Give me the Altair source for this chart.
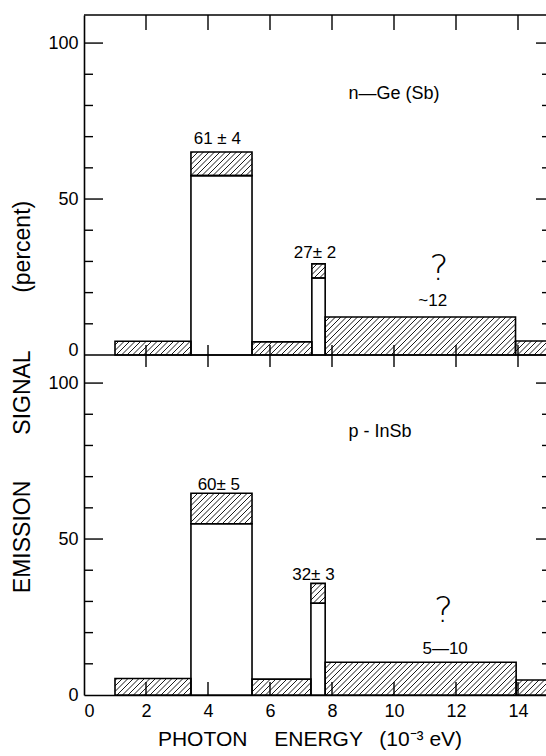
import altair as alt
import numpy as np
import pandas as pd

# ---------------- data ----------------
# bin edges (10^-3 eV) and signal levels (percent)
ge_edges = [1.0, 3.45, 5.42, 7.35, 7.78, 13.92, 16.0]
ge_open = [0, 57.5, 0, 24.7, 0, 0]          # top of the open (unhatched) part
ge_top = [4.4, 65.1, 4.2, 29.2, 12.2, 4.5]   # top of the hatched part

insb_edges = [1.0, 3.45, 5.42, 7.32, 7.78, 13.94, 16.0]
insb_open = [0, 54.9, 0, 29.4, 0, 0]
insb_top = [5.3, 64.7, 5.1, 35.8, 10.5, 4.8]

ge_val_text = ["61 ± 4", "27± 2", "~12"]
ge_val_x = [4.3, 7.45, 11.25]
ge_val_y = [69.2, 32.8, 17.4]
insb_val_text = ["60± 5", "32± 3", "5—10"]
insb_val_x = [4.35, 7.4, 11.65]
insb_val_y = [67.4, 38.5, 14.7]

sample_names = ["n—Ge (Sb)", "p - InSb"]
sample_x = [10.0, 9.55]
sample_y = [83.6, 84.2]

question_x = [11.45, 11.6]
question_y = [27.5, 26.8]

x_tick_values = [2, 4, 6, 8, 10, 12, 14]
x_label_values = [0, 2, 4, 6, 8, 10, 12, 14]
y_major = [50, 100]
y_minor = [10, 20, 30, 40, 60, 70, 80, 90]
y_label_values = [0, 50, 100]

x_title = "PHOTON\u2003 ENERGY\u2002 (10\u207b\u00b3 eV)"
y_title = "EMISSION\u2003\u2003SIGNAL\u2003\u2003\u2002(percent)"

# ---------------- layout ----------------
W, H = 462, 680
XMAX = 462 / 31.0
PANEL = 109.0           # y-units per panel
YMAX = 2 * PANEL
sx = W / XMAX
sy = H / YMAX
FONT = "Liberation Sans"

panels = [("ge", PANEL, ge_edges, ge_open, ge_top),
          ("insb", 0.0, insb_edges, insb_open, insb_top)]

rows = []
for name, off, edges, op, tp in panels:
    for i in range(len(tp)):
        rows.append(dict(panel=name, x0=edges[i], x1=edges[i + 1],
                         base=off, mid=off + op[i], hi=off + tp[i], open=op[i]))
bars = pd.DataFrame(rows)


def hatch(x0, x1, y0, y1, step=5.5):
    X0, X1, Y0, Y1 = x0 * sx, x1 * sx, y0 * sy, y1 * sy
    out = []
    c = np.floor((X0 - Y1) / step) * step
    while c < X1 - Y0:
        lo = max(X0, Y0 + c)
        hi = min(X1, Y1 + c)
        if hi > lo:
            out.append(dict(x0=lo / sx, base=(lo - c) / sy, x1=hi / sx, hi=(hi - c) / sy))
        c += step
    return out


hrows = []
for _, r in bars.iterrows():
    hrows += hatch(r.x0, r.x1, r.mid, r.hi)
hatches = pd.DataFrame(hrows)

# tick marks (inward)
xt = []
for v in x_tick_values:
    xt.append(dict(x0=v, base=2 * PANEL, hi=2 * PANEL - 15 / sy))
    xt.append(dict(x0=v, base=PANEL, hi=PANEL + 10 / sy))
    xt.append(dict(x0=v, base=PANEL, hi=PANEL - 12 / sy))
    xt.append(dict(x0=v, base=0, hi=13 / sy))
xticks = pd.DataFrame(xt)

ymaj = pd.DataFrame(dict(base=[v + o for o in (0, PANEL) for v in y_major]))
ymin = pd.DataFrame(dict(base=[v + o for o in (0, PANEL) for v in y_minor]))
frame = pd.DataFrame(dict(base=[PANEL, 2 * PANEL]))

vals = pd.DataFrame(dict(
    t=ge_val_text + insb_val_text,
    x0=ge_val_x + insb_val_x,
    base=[v + PANEL for v in ge_val_y] + insb_val_y))
names = pd.DataFrame(dict(t=sample_names, x0=sample_x, base=[sample_y[0] + PANEL, sample_y[1]]))
qs = pd.DataFrame(dict(t=["?", "?"], x0=question_x, base=[question_y[0] + PANEL, question_y[1]]))

xs = alt.Scale(domain=[0, XMAX], nice=False, zero=False)
ys = alt.Scale(domain=[0, YMAX], nice=False, zero=False)

y_axis_vals = [v for v in y_label_values] + [v + PANEL for v in y_label_values]

XAX = alt.Axis(
    values=x_label_values, format="d", ticks=False, tickSize=0, labelPadding=7,
    labelFontSize=18, labelFont=FONT, labelColor="black", domain=True,
    domainColor="black", domainWidth=1.6, grid=False, title=None)
YAX = alt.Axis(
    values=y_axis_vals,
    labelExpr="datum.value >= 109 ? datum.value - 109 : datum.value",
    ticks=False, tickSize=0, labelPadding=6, labelFontSize=18, labelFont=FONT,
    labelColor="black",
    labelBaseline={"condition": {"test": "datum.value === 109", "value": "alphabetic"},
                   "value": "middle"},
    domain=True, domainColor="black", domainWidth=1.6, grid=False, title=None)


def X(f="x0"):
    return alt.X(f + ":Q", scale=xs, axis=XAX, title=None)


def Y(f="base"):
    return alt.Y(f + ":Q", scale=ys, axis=YAX, title=None)


fills = alt.Chart(bars).mark_rect(fill="white", stroke=None, clip=True).encode(
    x=X(), x2="x1:Q", y=Y(), y2="hi:Q")

hatch_lines = alt.Chart(hatches).mark_rule(color="black", strokeWidth=0.9, clip=True).encode(
    x=X(), x2="x1:Q", y=Y(), y2="hi:Q")

open_outline = alt.Chart(bars).transform_filter("datum.open > 0").mark_rect(
    fill=None, stroke="black", strokeWidth=1.6, clip=True).encode(
    x=X(), x2="x1:Q", y=Y(), y2="mid:Q")
hatch_outline = alt.Chart(bars).mark_rect(
    fill=None, stroke="black", strokeWidth=1.6, clip=True).encode(
    x=X(), x2="x1:Q", y=Y("mid"), y2="hi:Q")

xtick_layer = alt.Chart(xticks).mark_rule(color="black", strokeWidth=1.4).encode(
    x=X(), y=Y(), y2="hi:Q")
ymaj_left = alt.Chart(ymaj).mark_rule(color="black", strokeWidth=1.4).encode(
    y=Y(), x=alt.value(0), x2=alt.value(19))
ymin_left = alt.Chart(ymin).mark_rule(color="black", strokeWidth=1.4).encode(
    y=Y(), x=alt.value(0), x2=alt.value(9))
ymaj_right = alt.Chart(ymaj).mark_rule(color="black", strokeWidth=1.4).encode(
    y=Y(), x=alt.value(W - 10), x2=alt.value(W))
ymin_right = alt.Chart(ymin).mark_rule(color="black", strokeWidth=1.4).encode(
    y=Y(), x=alt.value(W - 4), x2=alt.value(W))
frame_lines = alt.Chart(frame).mark_rule(color="black", strokeWidth=1.6).encode(
    y=Y(), x=alt.value(0), x2=alt.value(W))

val_text = alt.Chart(vals).mark_text(font=FONT, fontSize=17, color="black",
                                     baseline="middle", align="center").encode(
    x=X(), y=Y(), text="t:N")
name_text = alt.Chart(names).mark_text(font=FONT, fontSize=18, color="black",
                                       baseline="middle", align="center").encode(
    x=X(), y=Y(), text="t:N")
q_text = alt.Chart(qs).mark_text(font="DejaVu Sans", fontWeight=200, fontSize=36,
                                 color="black", baseline="middle", align="center").encode(
    x=X(), y=Y(), text="t:N")

titles = pd.DataFrame(dict(t=[x_title]))
xtitle = alt.Chart(titles).mark_text(font=FONT, fontSize=21, color="black",
                                     baseline="middle", align="center").encode(
    x=alt.value(226), y=alt.value(725), text="t:N")
ytitles = pd.DataFrame(dict(t=[y_title]))
ytitle = alt.Chart(ytitles).mark_text(font=FONT, fontSize=23, color="black", angle=270,
                                      baseline="middle", align="center").encode(
    x=alt.value(-61), y=alt.value(382), text="t:N")

chart = alt.layer(
    fills, hatch_lines, open_outline, hatch_outline, xtick_layer,
    ymaj_left, ymin_left, ymaj_right, ymin_right, frame_lines,
    val_text, name_text, q_text, xtitle, ytitle,
).properties(
    width=W, height=H,
    autosize=alt.AutoSizeParams(type="none"),
    padding={"left": 84, "top": 15, "right": 0, "bottom": 61},
    background="white",
).configure_view(stroke=None)

chart.save("out.html", embed_options={"renderer": "svg", "actions": False})
